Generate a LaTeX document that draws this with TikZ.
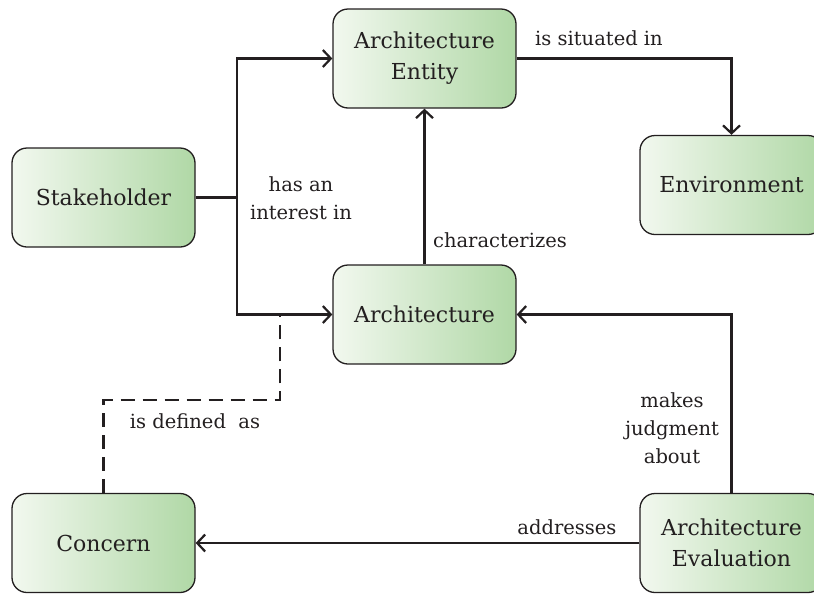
\documentclass[tikz,border=0pt]{standalone}
\usepackage{fontspec}
\setmainfont{DejaVu Serif}
\usetikzlibrary{arrows.meta, positioning}

\definecolor{boxleft}{RGB}{242,248,239}
\definecolor{boxright}{RGB}{176,216,166}
\definecolor{ink}{RGB}{35,31,32}

\tikzset{
  entity/.style={draw=ink, line width=1.3pt, rounded corners=15pt,
    minimum width=183pt, minimum height=99pt, left color=boxleft,
    right color=boxright, align=center, text=ink,
    font=\fontsize{22}{31}\selectfont},
  rel/.style={draw=ink, line width=2.2pt, -{Straight Barb[length=8pt,width=17pt]}},
  defn/.style={draw=ink, line width=2.2pt, dash pattern=on 14pt off 8pt},
  tag/.style={text=ink, align=center, font=\fontsize{19.5}{28}\selectfont}
}

\begin{document}
\begin{tikzpicture}[x=1pt, y=-1pt]
\useasboundingbox (0,0) rectangle (814,595);

% boxes (the two on the right run past the page edge)
\node[entity] (entity) at (424.5,58.5) {Architecture\\Entity};
\node[entity] (env) at (731.5,185) {Environment};
\node[entity] (stake) at (103.5,197.5) {Stakeholder};
\node[entity] (arch) at (424.5,314.5) {Architecture};
\node[entity] (concern) at (103.5,543) {Concern};
\node[entity] (eval) at (731.5,543) {Architecture\\Evaluation};

% relations
\coordinate (fork) at (237,197.5);
\coordinate (join) at (280,314.5);
\draw[rel] (stake.east) -- (fork) |- (entity.west);
\draw[rel] (fork) |- (arch.west);
\draw[rel] (entity.east) -| (env.north);
\draw[rel] (arch.north) -- (entity.south);
\draw[rel] (eval.north) |- (arch.east);
\draw[rel] (eval.west) -- (concern.east);
\draw[defn] (concern.north) -- ++(0,-93) -| (join);

% labels
\node[tag] (interest) at (301,198) {has an\\interest in};
\node[tag] (situated) at (599,38) {is situated in};
\node[tag] (charact) at (500,240) {characterizes};
\node[tag] (judgment) at (672,428) {makes\\judgment\\about};
\node[tag] (addr) at (567,527) {addresses};
\node[tag] (defined) at (195,421) {is defined\ \ as};
\end{tikzpicture}
\end{document}
